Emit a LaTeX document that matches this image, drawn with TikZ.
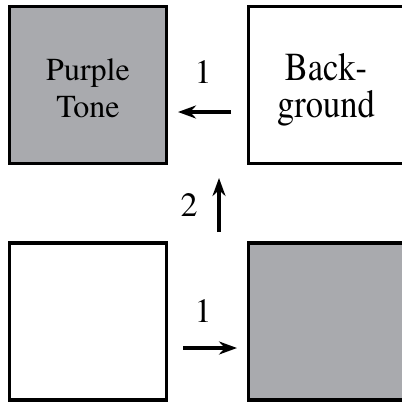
\documentclass[tikz,border=0pt]{standalone}
\usepackage[T1]{fontenc}
\usepackage{times}
\usepackage{graphicx}
\usetikzlibrary{arrows.meta}
\definecolor{tonegray}{RGB}{169,170,174}
\begin{document}
\begin{tikzpicture}[x=1pt,y=-1pt,
  sq/.style={draw=black,line width=3.3pt,minimum width=157pt,minimum height=157pt,inner sep=0pt,outer sep=0pt},
  graysq/.style={sq,fill=tonegray},
  whitesq/.style={sq,fill=white},
  txtl/.style={font=\rmfamily\fontsize{32}{36}\selectfont,inner sep=0pt,anchor=base},
  txtr/.style={font=\rmfamily\fontsize{34.5}{38}\selectfont,inner sep=0pt,anchor=base},
  num/.style={font=\rmfamily\fontsize{34}{36}\selectfont,inner sep=0pt},
  arr/.style={line width=3.5pt,-{Stealth[length=18pt,width=13pt]}}]
\useasboundingbox (0,0) rectangle (402,402);
\clip (0,0) rectangle (402,402);
\fill[white] (0,0) rectangle (402,402);
\node[graysq] (tl) at (88,85) {};
\node[whitesq] (tr) at (327,85) {};
\node[whitesq] (bl) at (88,321.5) {};
\node[graysq] (br) at (327,321.5) {};
\node[txtl] (tla) at (88,80) {Purple};
\node[txtl] (tlb) at (88,117) {Tone};
\node[txtr] (tra) at (326,80) {\scalebox{1}[1.15]{Back-}};
\node[txtr] (trb) at (326,117) {\scalebox{1}[1.15]{ground}};
\node[num] (n1) at (203,72) {1};
\node[num] (n2) at (189,205) {2};
\node[num] (n3) at (203,311) {1};
\coordinate (u1) at (219,232);
\coordinate (u2) at (219,178);
\draw[arr,shorten <=17.5pt,shorten >=11.5pt] ([yshift=-27pt]tr.west) -- ([yshift=-27pt]tl.east);
\draw[arr] (u1) -- (u2);
\draw[arr,shorten <=16.5pt,shorten >=11.5pt] ([yshift=-26.5pt]bl.east) -- ([yshift=-26.5pt]br.west);
\end{tikzpicture}
\end{document}
